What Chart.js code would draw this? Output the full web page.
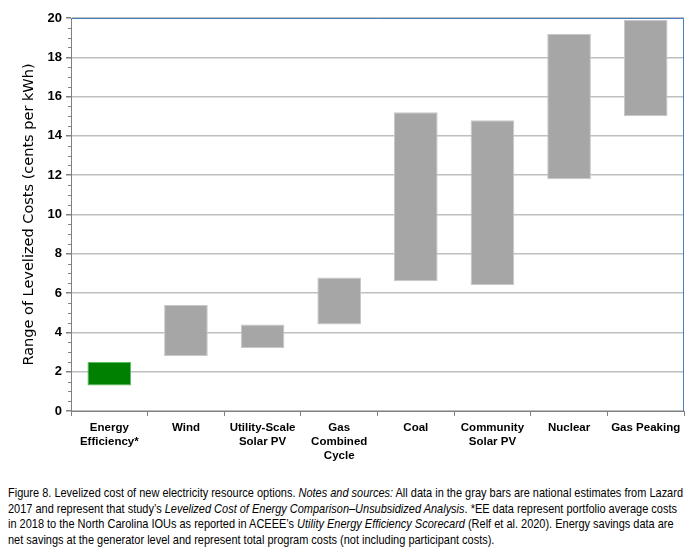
<!DOCTYPE html>
<html>
<head>
<meta charset="utf-8">
<script src="https://cdn.jsdelivr.net/npm/chart.js@4"></script>
<style>
  html, body { margin: 0; padding: 0; background: #fff; overflow: hidden; }
  #wrap { position: relative; width: 692px; height: 466px; }
  #caption {
    position: absolute; left: 8px; top: 485px;
    font-family: "Liberation Sans", Arial, sans-serif;
    font-size: 13.5px; line-height: 15.6px; color: #000;
    transform-origin: 0 0; white-space: nowrap;
  }
</style>
</head>
<body>
<div id="wrap"><canvas id="c"></canvas></div>
<div id="caption"><span id="l1">Figure 8. Levelized cost of new electricity resource options. <i>Notes and sources:</i> All data in the gray bars are national estimates from Lazard</span><br>2017 and represent that study’s <i>Levelized Cost of Energy Comparison–Unsubsidized Analysis</i>. *EE data represent portfolio average costs<br>in 2018 to the North Carolina IOUs as reported in ACEEE’s <i>Utility Energy Efficiency Scorecard</i> (Relf et al. 2020). Energy savings data are<br>net savings at the generator level and represent total program costs (not including participant costs).</div>
<script>
const categories = [
  ["Energy", "Efficiency*"],
  "Wind",
  ["Utility-Scale", "Solar PV"],
  ["Gas", "Combined", "Cycle"],
  "Coal",
  ["Community", "Solar PV"],
  "Nuclear",
  "Gas Peaking"
];
const lowValues  = [1.3, 2.8, 3.2, 4.4, 6.6, 6.4, 11.8, 15.0];
const highValues = [2.5, 5.4, 4.4, 6.8, 15.2, 14.8, 19.2, 19.9];
const yTicks = [0, 2, 4, 6, 8, 10, 12, 14, 16, 18, 20];

const ranges = lowValues.map((lo, i) => [lo, highValues[i]]);
const fills = ranges.map((_, i) => i === 0 ? "#008000" : "#a6a6a6");
const borders = ranges.map((_, i) => i === 0 ? "#5cc05c" : "#c8c8c8");

(function () {
  const cap = document.getElementById("caption");
  const w = document.getElementById("l1").getBoundingClientRect().width;
  const k = 675 / w;
  cap.style.transform = "scaleX(" + k + ")";
})();

const frame = {
  id: "frame",
  afterDraw(chart) {
    const ctx = chart.ctx, a = chart.chartArea, y = chart.scales.y;
    ctx.save();
    ctx.strokeStyle = "#808080"; ctx.lineWidth = 1;
    for (let v = 0.5; v < 20; v += 0.5) {
      if (Math.abs(v / 2 - Math.round(v / 2)) < 1e-6) continue;
      const py = Math.round(y.getPixelForValue(v)) + 0.5;
      ctx.beginPath(); ctx.moveTo(a.left - 3, py); ctx.lineTo(a.left, py); ctx.stroke();
    }
    ctx.strokeStyle = "#4a7ebb"; ctx.lineWidth = 1;
    ctx.beginPath();
    ctx.moveTo(a.left, a.top + 0.5); ctx.lineTo(a.right - 0.5, a.top + 0.5); ctx.lineTo(a.right - 0.5, a.bottom);
    ctx.stroke();
    ctx.restore();
  }
};

new Chart(document.getElementById("c"), {
  type: "bar",
  data: {
    labels: categories,
    datasets: [{
      data: ranges,
      backgroundColor: fills,
      borderColor: borders,
      borderWidth: 1,
      borderSkipped: false,
      barPercentage: 0.57,
      categoryPercentage: 1.0
    }]
  },
  options: {
    responsive: true,
    maintainAspectRatio: false,
    animation: false,
    layout: { padding: { top: 18, right: 8, left: 0, bottom: 0 } },
    plugins: { legend: { display: false }, tooltip: { enabled: false } },
    scales: {
      x: {
        grid: { display: true, offset: true, drawOnChartArea: false, drawTicks: true, tickLength: 5, color: "#808080" },
        border: { display: true, color: "#808080", width: 1 },
        ticks: {
          color: "#000", padding: 5, maxRotation: 0, autoSkip: false,
          font: { family: "'Liberation Sans', Arial, sans-serif", size: 11.5, weight: "bold", lineHeight: 1.22 }
        },
        afterFit(s) { s.height = 55; }
      },
      y: {
        min: 0, max: 20,
        afterBuildTicks(s) { s.ticks = yTicks.map(v => ({ value: v })); },
        grid: { color: "#bfbfbf", lineWidth: 1.5, drawTicks: true, tickLength: 5, tickColor: "#808080" },
        border: { display: true, color: "#808080", width: 1 },
        ticks: {
          color: "#000", padding: 4,
          font: { family: "'Liberation Sans', Arial, sans-serif", size: 13, weight: "bold" }
        },
        title: {
          display: true, text: "Range of Levelized Costs (cents per kWh)", color: "#000",
          font: { family: "'DejaVu Sans', Verdana, sans-serif", size: 14.5 }, padding: { top: 21, bottom: 0 }
        },
        afterFit(s) { s.width = 71; }
      }
    }
  },
  plugins: [frame]
});
</script>
</body>
</html>
